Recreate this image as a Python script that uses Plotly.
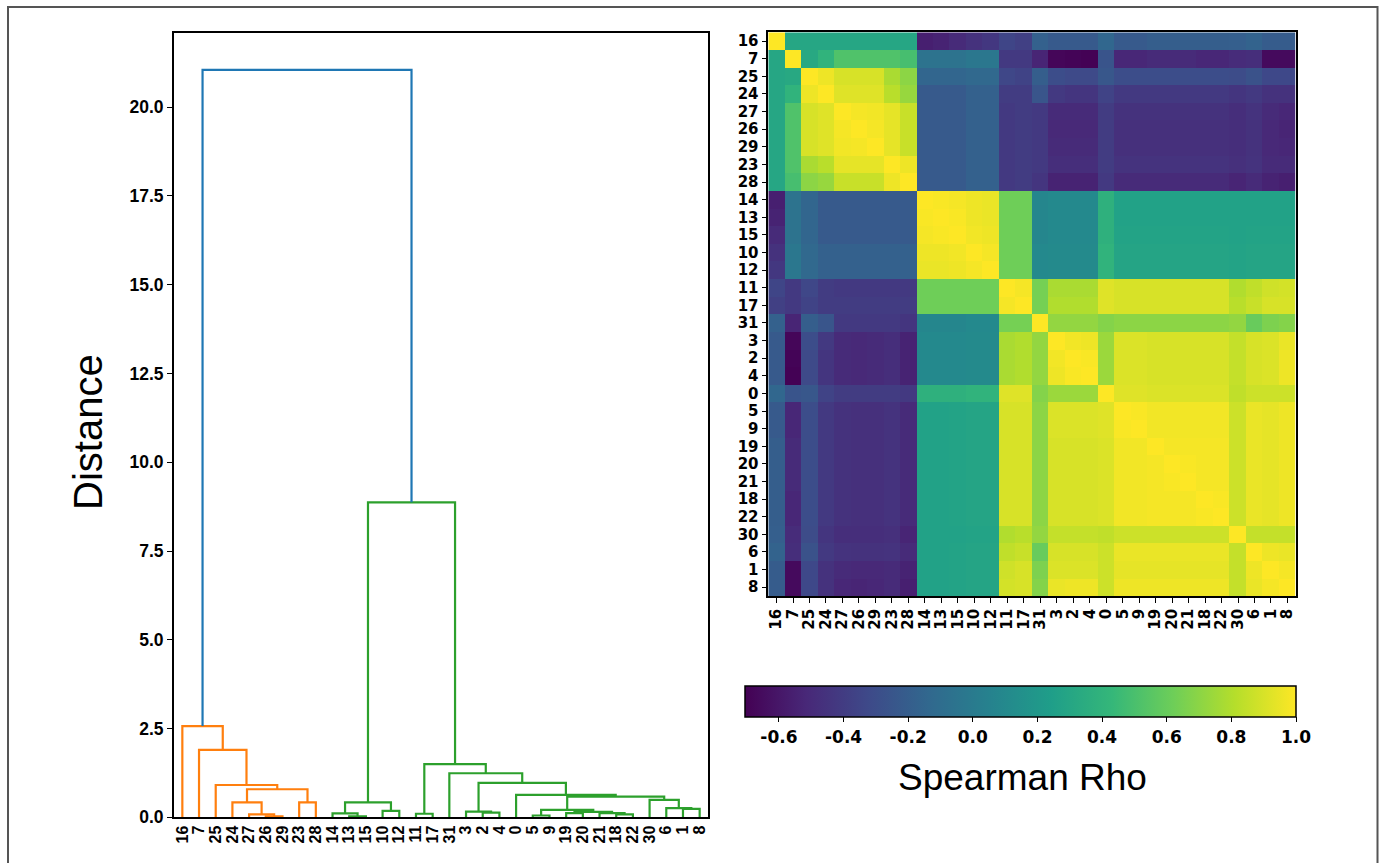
import plotly.graph_objects as go

W, H = 1385, 863

leaves = ["16", "7", "25", "24", "27", "26", "29", "23", "28", "14", "13", "15", "10", "12",
          "11", "17", "31", "3", "2", "4", "0", "5", "9", "19", "20", "21", "18", "22", "30",
          "6", "1", "8"]

# dendrogram merges: (child_a, child_b, height, colour group)
merge_a = ["26", "27", "24", "23", "m2", "25", "7", "16",
           "13", "14", "10", "m9", "11", "2", "3", "5", "19", "18", "21", "m16",
           "m15", "1", "6", "30", "m20", "0", "m14", "31", "m12", "m11", "m7"]
merge_b = ["29", "m0", "m1", "28", "m3", "m4", "m5", "m6",
           "15", "m8", "12", "m10", "17", "4", "m13", "9", "20", "22", "m17", "m18",
           "m19", "8", "m21", "m22", "m23", "m24", "m25", "m26", "m27", "m28", "m29"]
merge_h = [0.03, 0.08, 0.42, 0.42, 0.79, 0.91, 1.90, 2.57,
           0.03, 0.11, 0.18, 0.42, 0.10, 0.13, 0.16, 0.05, 0.12, 0.08, 0.12, 0.15,
           0.21, 0.24, 0.26, 0.49, 0.58, 0.63, 0.97, 1.24, 1.50, 8.87, 21.05]
merge_c = ["o"] * 8 + ["g"] * 22 + ["b"]

# Spearman rho matrix, rows/cols in leaf order
rho = [
    [1.00, 0.30, 0.30, 0.30, 0.30, 0.30, 0.30, 0.30, 0.30, -0.56, -0.54, -0.50, -0.46, -0.43, -0.35, -0.38, -0.18, -0.22, -0.22, -0.22, -0.14, -0.22, -0.22, -0.20, -0.20, -0.20, -0.20, -0.20, -0.19, -0.17, -0.21, -0.21],
    [0.30, 1.00, 0.32, 0.40, 0.52, 0.52, 0.52, 0.52, 0.49, -0.06, -0.06, -0.06, -0.03, -0.03, -0.42, -0.42, -0.53, -0.68, -0.69, -0.70, -0.26, -0.52, -0.52, -0.50, -0.50, -0.50, -0.52, -0.52, -0.49, -0.48, -0.66, -0.66],
    [0.30, 0.32, 1.00, 0.96, 0.90, 0.90, 0.90, 0.78, 0.70, -0.15, -0.15, -0.15, -0.13, -0.13, -0.34, -0.36, -0.20, -0.30, -0.32, -0.32, -0.24, -0.30, -0.30, -0.30, -0.30, -0.30, -0.30, -0.30, -0.31, -0.27, -0.33, -0.33],
    [0.30, 0.40, 0.96, 1.00, 0.92, 0.92, 0.92, 0.82, 0.73, -0.22, -0.22, -0.22, -0.18, -0.18, -0.40, -0.40, -0.25, -0.42, -0.44, -0.44, -0.36, -0.42, -0.42, -0.42, -0.42, -0.42, -0.42, -0.42, -0.44, -0.42, -0.46, -0.46],
    [0.30, 0.52, 0.90, 0.92, 1.00, 0.98, 0.97, 0.94, 0.86, -0.22, -0.22, -0.22, -0.18, -0.18, -0.42, -0.40, -0.42, -0.50, -0.50, -0.50, -0.40, -0.46, -0.46, -0.46, -0.46, -0.46, -0.46, -0.46, -0.48, -0.45, -0.50, -0.52],
    [0.30, 0.52, 0.90, 0.92, 0.98, 1.00, 0.98, 0.94, 0.86, -0.22, -0.22, -0.22, -0.18, -0.18, -0.42, -0.40, -0.42, -0.51, -0.51, -0.51, -0.40, -0.47, -0.47, -0.47, -0.47, -0.47, -0.47, -0.47, -0.48, -0.46, -0.51, -0.53],
    [0.30, 0.52, 0.90, 0.92, 0.97, 0.98, 1.00, 0.94, 0.86, -0.22, -0.22, -0.22, -0.18, -0.18, -0.42, -0.40, -0.42, -0.50, -0.50, -0.50, -0.40, -0.47, -0.47, -0.47, -0.47, -0.47, -0.47, -0.47, -0.48, -0.46, -0.51, -0.52],
    [0.30, 0.52, 0.78, 0.82, 0.94, 0.94, 0.94, 1.00, 0.96, -0.22, -0.22, -0.22, -0.18, -0.18, -0.42, -0.40, -0.42, -0.48, -0.48, -0.48, -0.40, -0.45, -0.45, -0.45, -0.45, -0.45, -0.45, -0.45, -0.47, -0.45, -0.50, -0.50],
    [0.30, 0.49, 0.70, 0.73, 0.86, 0.86, 0.86, 0.96, 1.00, -0.22, -0.22, -0.22, -0.18, -0.18, -0.42, -0.40, -0.44, -0.54, -0.54, -0.54, -0.42, -0.50, -0.50, -0.50, -0.50, -0.50, -0.50, -0.50, -0.53, -0.50, -0.54, -0.56],
    [-0.56, -0.06, -0.15, -0.22, -0.22, -0.22, -0.22, -0.22, -0.22, 1.00, 0.99, 0.98, 0.96, 0.95, 0.62, 0.62, 0.08, 0.10, 0.10, 0.10, 0.38, 0.27, 0.27, 0.27, 0.27, 0.27, 0.27, 0.27, 0.27, 0.27, 0.27, 0.27],
    [-0.54, -0.06, -0.15, -0.22, -0.22, -0.22, -0.22, -0.22, -0.22, 0.99, 1.00, 0.99, 0.96, 0.95, 0.62, 0.62, 0.08, 0.10, 0.10, 0.10, 0.38, 0.27, 0.27, 0.27, 0.27, 0.27, 0.27, 0.27, 0.27, 0.27, 0.27, 0.27],
    [-0.50, -0.06, -0.15, -0.22, -0.22, -0.22, -0.22, -0.22, -0.22, 0.98, 0.99, 1.00, 0.97, 0.96, 0.62, 0.62, 0.08, 0.10, 0.10, 0.10, 0.38, 0.28, 0.28, 0.28, 0.28, 0.28, 0.28, 0.28, 0.27, 0.28, 0.28, 0.28],
    [-0.46, -0.03, -0.13, -0.18, -0.18, -0.18, -0.18, -0.18, -0.18, 0.96, 0.96, 0.97, 1.00, 0.98, 0.62, 0.62, 0.10, 0.11, 0.11, 0.11, 0.40, 0.29, 0.29, 0.29, 0.29, 0.29, 0.29, 0.29, 0.28, 0.29, 0.29, 0.29],
    [-0.43, -0.03, -0.13, -0.18, -0.18, -0.18, -0.18, -0.18, -0.18, 0.95, 0.95, 0.96, 0.98, 1.00, 0.62, 0.62, 0.10, 0.11, 0.11, 0.11, 0.40, 0.29, 0.29, 0.29, 0.29, 0.29, 0.29, 0.29, 0.28, 0.29, 0.29, 0.29],
    [-0.35, -0.42, -0.34, -0.40, -0.42, -0.42, -0.42, -0.42, -0.42, 0.62, 0.62, 0.62, 0.62, 0.62, 1.00, 0.98, 0.64, 0.78, 0.78, 0.78, 0.92, 0.90, 0.90, 0.90, 0.90, 0.90, 0.90, 0.90, 0.80, 0.84, 0.88, 0.89],
    [-0.38, -0.42, -0.36, -0.40, -0.40, -0.40, -0.40, -0.40, -0.40, 0.62, 0.62, 0.62, 0.62, 0.62, 0.98, 1.00, 0.64, 0.80, 0.80, 0.80, 0.92, 0.90, 0.90, 0.90, 0.90, 0.90, 0.90, 0.90, 0.82, 0.86, 0.90, 0.90],
    [-0.18, -0.53, -0.20, -0.25, -0.42, -0.42, -0.42, -0.42, -0.44, 0.08, 0.08, 0.08, 0.10, 0.10, 0.64, 0.64, 1.00, 0.72, 0.72, 0.72, 0.68, 0.70, 0.70, 0.70, 0.70, 0.70, 0.70, 0.70, 0.72, 0.60, 0.66, 0.68],
    [-0.22, -0.68, -0.30, -0.42, -0.50, -0.51, -0.50, -0.48, -0.54, 0.10, 0.10, 0.10, 0.11, 0.11, 0.78, 0.80, 0.72, 1.00, 0.97, 0.96, 0.74, 0.91, 0.91, 0.90, 0.90, 0.90, 0.90, 0.90, 0.85, 0.90, 0.91, 0.95],
    [-0.22, -0.69, -0.32, -0.44, -0.50, -0.51, -0.50, -0.48, -0.54, 0.10, 0.10, 0.10, 0.11, 0.11, 0.78, 0.80, 0.72, 0.97, 1.00, 0.99, 0.74, 0.91, 0.91, 0.90, 0.90, 0.90, 0.90, 0.90, 0.85, 0.90, 0.91, 0.96],
    [-0.22, -0.70, -0.32, -0.44, -0.50, -0.51, -0.50, -0.48, -0.54, 0.10, 0.10, 0.10, 0.11, 0.11, 0.78, 0.80, 0.72, 0.96, 0.99, 1.00, 0.74, 0.91, 0.91, 0.90, 0.90, 0.90, 0.90, 0.90, 0.85, 0.90, 0.91, 0.96],
    [-0.14, -0.26, -0.24, -0.36, -0.40, -0.40, -0.40, -0.40, -0.42, 0.38, 0.38, 0.38, 0.40, 0.40, 0.92, 0.92, 0.68, 0.74, 0.74, 0.74, 1.00, 0.92, 0.92, 0.91, 0.91, 0.91, 0.91, 0.91, 0.84, 0.87, 0.87, 0.87],
    [-0.22, -0.52, -0.30, -0.42, -0.46, -0.47, -0.47, -0.45, -0.50, 0.27, 0.27, 0.28, 0.29, 0.29, 0.90, 0.90, 0.70, 0.91, 0.91, 0.91, 0.92, 1.00, 0.99, 0.97, 0.97, 0.97, 0.97, 0.97, 0.87, 0.95, 0.94, 0.96],
    [-0.22, -0.52, -0.30, -0.42, -0.46, -0.47, -0.47, -0.45, -0.50, 0.27, 0.27, 0.28, 0.29, 0.29, 0.90, 0.90, 0.70, 0.91, 0.91, 0.91, 0.92, 0.99, 1.00, 0.97, 0.97, 0.97, 0.97, 0.97, 0.87, 0.95, 0.94, 0.96],
    [-0.20, -0.50, -0.30, -0.42, -0.46, -0.47, -0.47, -0.45, -0.50, 0.27, 0.27, 0.28, 0.29, 0.29, 0.90, 0.90, 0.70, 0.90, 0.90, 0.90, 0.91, 0.97, 0.97, 1.00, 0.98, 0.98, 0.98, 0.98, 0.87, 0.95, 0.94, 0.96],
    [-0.20, -0.50, -0.30, -0.42, -0.46, -0.47, -0.47, -0.45, -0.50, 0.27, 0.27, 0.28, 0.29, 0.29, 0.90, 0.90, 0.70, 0.90, 0.90, 0.90, 0.91, 0.97, 0.97, 0.98, 1.00, 0.99, 0.98, 0.98, 0.87, 0.95, 0.94, 0.96],
    [-0.20, -0.50, -0.30, -0.42, -0.46, -0.47, -0.47, -0.45, -0.50, 0.27, 0.27, 0.28, 0.29, 0.29, 0.90, 0.90, 0.70, 0.90, 0.90, 0.90, 0.91, 0.97, 0.97, 0.98, 0.99, 1.00, 0.98, 0.98, 0.87, 0.95, 0.94, 0.96],
    [-0.20, -0.52, -0.30, -0.42, -0.46, -0.47, -0.47, -0.45, -0.50, 0.27, 0.27, 0.28, 0.29, 0.29, 0.90, 0.90, 0.70, 0.90, 0.90, 0.90, 0.91, 0.97, 0.97, 0.98, 0.98, 0.98, 1.00, 0.99, 0.87, 0.95, 0.94, 0.96],
    [-0.20, -0.52, -0.30, -0.42, -0.46, -0.47, -0.47, -0.45, -0.50, 0.27, 0.27, 0.28, 0.29, 0.29, 0.90, 0.90, 0.70, 0.90, 0.90, 0.90, 0.91, 0.97, 0.97, 0.98, 0.98, 0.98, 0.99, 1.00, 0.87, 0.95, 0.94, 0.96],
    [-0.19, -0.49, -0.31, -0.44, -0.48, -0.48, -0.48, -0.47, -0.53, 0.27, 0.27, 0.27, 0.28, 0.28, 0.80, 0.82, 0.72, 0.85, 0.85, 0.85, 0.84, 0.87, 0.87, 0.87, 0.87, 0.87, 0.87, 0.87, 1.00, 0.85, 0.85, 0.85],
    [-0.17, -0.48, -0.27, -0.42, -0.45, -0.46, -0.46, -0.45, -0.50, 0.27, 0.27, 0.28, 0.29, 0.29, 0.84, 0.86, 0.60, 0.90, 0.90, 0.90, 0.87, 0.95, 0.95, 0.95, 0.95, 0.95, 0.95, 0.95, 0.85, 1.00, 0.96, 0.95],
    [-0.21, -0.66, -0.33, -0.46, -0.50, -0.51, -0.51, -0.50, -0.54, 0.27, 0.27, 0.28, 0.29, 0.29, 0.88, 0.90, 0.66, 0.91, 0.91, 0.91, 0.87, 0.94, 0.94, 0.94, 0.94, 0.94, 0.94, 0.94, 0.85, 0.96, 1.00, 0.98],
    [-0.21, -0.66, -0.33, -0.46, -0.52, -0.53, -0.52, -0.50, -0.56, 0.27, 0.27, 0.28, 0.29, 0.29, 0.89, 0.90, 0.68, 0.95, 0.96, 0.96, 0.87, 0.96, 0.96, 0.96, 0.96, 0.96, 0.96, 0.96, 0.85, 0.95, 0.98, 1.00],
]

dist_ticks = [0.0, 2.5, 5.0, 7.5, 10.0, 12.5, 15.0, 17.5, 20.0]
rho_ticks = [-0.6, -0.4, -0.2, 0.0, 0.2, 0.4, 0.6, 0.8, 1.0]
rho_min, rho_max = -0.705, 1.0

colors = {"o": "#ff7f0e", "g": "#2ca02c", "b": "#1f77b4"}

# ---- dendrogram geometry (scipy-like: leaf i at 5 + 10 i) ----
pos = {lab: 5 + 10 * i for i, lab in enumerate(leaves)}
hgt = {lab: 0.0 for lab in leaves}
segs = {"o": ([], []), "g": ([], []), "b": ([], [])}
for k, (a, b, h, c) in enumerate(zip(merge_a, merge_b, merge_h, merge_c)):
    xa, xb = pos[a], pos[b]
    xs, ys = segs[c]
    xs += [xa, xa, xb, xb, None]
    ys += [hgt[a], h, h, hgt[b], None]
    pos["m%d" % k] = (xa + xb) / 2
    hgt["m%d" % k] = h

fig = go.Figure()
for c in ["o", "g", "b"]:
    xs, ys = segs[c]
    fig.add_trace(go.Scatter(x=xs, y=ys, mode="lines", line=dict(color=colors[c], width=2.2),
                             xaxis="x", yaxis="y", showlegend=False, hoverinfo="skip"))

idx = list(range(len(leaves)))
fig.add_trace(go.Heatmap(
    z=rho, x=idx, y=idx, xaxis="x2", yaxis="y2",
    colorscale="Viridis", zmin=rho_min, zmax=rho_max,
    colorbar=dict(
        orientation="h", x=1020.5 / W, xanchor="center", y=1 - 686 / H, yanchor="top",
        len=551, lenmode="pixels", thickness=31, thicknessmode="pixels",
        xpad=0, ypad=0, outlinewidth=1.5, outlinecolor="black",
        ticks="outside", ticklen=5, tickcolor="black", tickwidth=1.2,
        tickvals=rho_ticks, ticktext=["%.1f" % v for v in rho_ticks],
        tickfont=dict(family="DejaVu Sans", size=17, color="black", weight="bold"),
    ),
))

fig.update_layout(
    width=W, height=H, margin=dict(l=0, r=0, t=0, b=0, autoexpand=False),
    paper_bgcolor="white", plot_bgcolor="white",
    xaxis=dict(domain=[174 / W, 708 / W], range=[0, 10 * len(leaves)], anchor="y",
               automargin=False,
               tickvals=[5 + 10 * i for i in idx], ticktext=leaves, tickangle=-90,
               ticks="", showgrid=False, zeroline=False,
               showline=True, mirror=True, linecolor="black", linewidth=2,
               tickfont=dict(family="Liberation Sans", size=16, color="black", weight="bold")),
    yaxis=dict(domain=[1 - 817.3 / H, 1 - 33 / H], range=[0, 22.09], anchor="x",
               automargin=False,
               tickvals=dist_ticks, ticktext=["%.1f" % v for v in dist_ticks],
               ticks="outside", ticklen=5, tickcolor="black", tickwidth=1.2,
               showgrid=False, zeroline=False,
               showline=True, mirror=True, linecolor="black", linewidth=2,
               tickfont=dict(family="Liberation Sans", size=17.5, color="black", weight="bold")),
    xaxis2=dict(domain=[768.3 / W, 1295.7 / W], range=[-0.5, len(leaves) - 0.5], anchor="y2",
                automargin=False,
                tickvals=idx, ticktext=leaves, tickangle=-90,
                ticks="outside", ticklen=5, tickcolor="black", tickwidth=1.2,
                showgrid=False, zeroline=False,
                showline=True, mirror=True, linecolor="black", linewidth=1.5,
                tickfont=dict(family="DejaVu Sans", size=15, color="black", weight="bold")),
    yaxis2=dict(domain=[1 - 596 / H, 1 - 32.3 / H], range=[len(leaves) - 0.5, -0.5], anchor="x2",
                automargin=False,
                tickvals=idx, ticktext=leaves,
                ticks="outside", ticklen=5, tickcolor="black", tickwidth=1.2,
                showgrid=False, zeroline=False,
                showline=True, mirror=True, linecolor="black", linewidth=1.5,
                tickfont=dict(family="DejaVu Sans", size=15, color="black", weight="bold")),
    annotations=[
        dict(text="Distance", x=88 / W, y=1 - 432 / H, xref="paper", yref="paper",
             xanchor="center", yanchor="middle", textangle=-90, showarrow=False,
             font=dict(family="Liberation Sans", size=40, color="black")),
        dict(text="Spearman Rho", x=1022 / W, y=1 - 777 / H, xref="paper", yref="paper",
             xanchor="center", yanchor="middle", showarrow=False,
             font=dict(family="Liberation Sans", size=37, color="black")),
    ],
    shapes=[dict(type="rect", xref="paper", yref="paper", x0=8 / W, x1=1377.5 / W,
                 y0=-0.05, y1=1 - 7 / H, line=dict(color="#555555", width=2))],
)

fig.write_html("out.html", config={"displayModeBar": False},
               post_script="document.body.style.margin='0';")
